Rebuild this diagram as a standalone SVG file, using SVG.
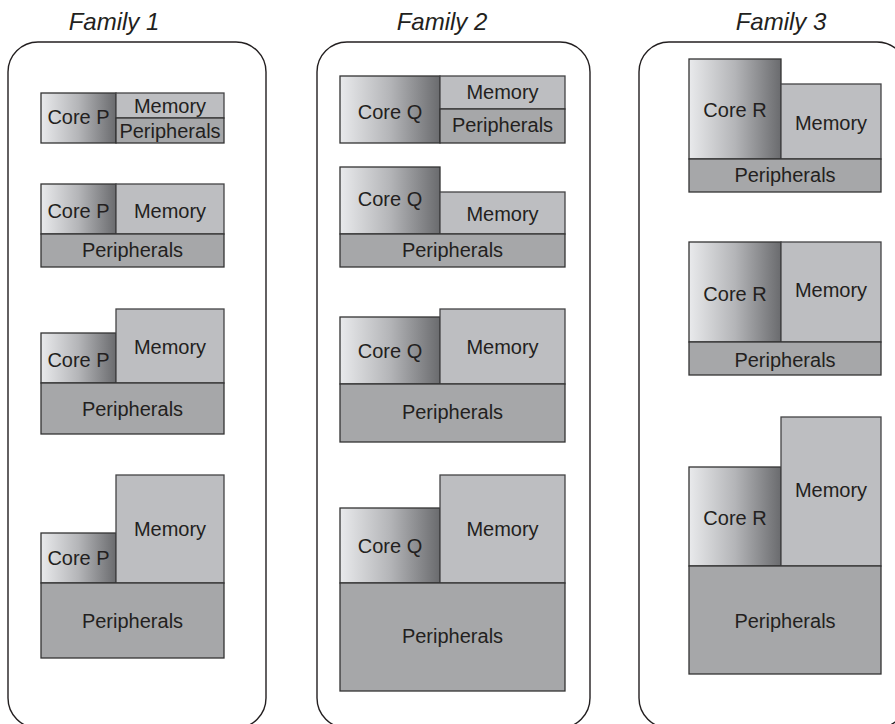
<svg xmlns="http://www.w3.org/2000/svg" width="895" height="724" viewBox="0 0 895 724">
<defs>
<linearGradient id="coreGrad" x1="0" y1="0" x2="1" y2="0">
<stop offset="0" stop-color="#e9eaec"/>
<stop offset="0.5" stop-color="#b4b5b8"/>
<stop offset="1" stop-color="#6a6b6e"/>
</linearGradient>
<style>
.panel{fill:#ffffff;stroke:#231f20;stroke-width:1.4}
.core{fill:url(#coreGrad);stroke:#333333;stroke-width:1.3}
.mem{fill:#bdbec1;stroke:#444446;stroke-width:1.3}
.per{fill:#a6a7a9;stroke:#333333;stroke-width:1.3}
.t{font-family:"Liberation Sans",Arial,sans-serif;font-size:20px;fill:#231f20;text-anchor:middle}
.title{font-family:"Liberation Sans",Arial,sans-serif;font-size:24px;font-style:italic;fill:#231f20;text-anchor:middle}
</style>
</defs>
<rect width="895" height="724" fill="#ffffff"/>

<g id="family1">
<text class="title" x="114" y="30">Family 1</text>
<rect class="panel" x="8" y="42" width="258" height="686" rx="30" ry="30"/>
</g>
<g id="family2">
<text class="title" x="442" y="30">Family 2</text>
<rect class="panel" x="317" y="42" width="273" height="686" rx="30" ry="30"/>
</g>
<g id="family3">
<text class="title" x="781" y="30">Family 3</text>
<rect class="panel" x="639" y="42" width="268" height="686" rx="30" ry="30"/>
</g>

<!-- Family 1 -->
<g id="f1b1">
<rect class="core" x="41" y="93" width="75" height="50"/>
<rect class="mem" x="116" y="93" width="108" height="25"/>
<rect class="per" x="116" y="118" width="108" height="25"/>
<text class="t" x="78.5" y="124">Core P</text>
<text class="t" x="170" y="113">Memory</text>
<text class="t" x="170" y="138">Peripherals</text>
</g>
<g id="f1b2">
<rect class="core" x="41" y="184" width="75" height="50"/>
<rect class="mem" x="116" y="184" width="108" height="50"/>
<rect class="per" x="41" y="234" width="183" height="33"/>
<text class="t" x="78.5" y="218">Core P</text>
<text class="t" x="170" y="218">Memory</text>
<text class="t" x="132.5" y="257">Peripherals</text>
</g>
<g id="f1b3">
<rect class="core" x="41" y="333" width="75" height="50"/>
<rect class="mem" x="116" y="309" width="108" height="74"/>
<rect class="per" x="41" y="383" width="183" height="51"/>
<text class="t" x="78.5" y="367">Core P</text>
<text class="t" x="170" y="354">Memory</text>
<text class="t" x="132.5" y="416">Peripherals</text>
</g>
<g id="f1b4">
<rect class="core" x="41" y="533" width="75" height="50"/>
<rect class="mem" x="116" y="475" width="108" height="108"/>
<rect class="per" x="41" y="583" width="183" height="75"/>
<text class="t" x="78.5" y="565">Core P</text>
<text class="t" x="170" y="536">Memory</text>
<text class="t" x="132.5" y="628">Peripherals</text>
</g>

<!-- Family 2 -->
<g id="f2b1">
<rect class="core" x="340" y="76" width="100" height="67"/>
<rect class="mem" x="440" y="76" width="125" height="33"/>
<rect class="per" x="440" y="109" width="125" height="34"/>
<text class="t" x="390" y="119">Core Q</text>
<text class="t" x="502.5" y="99">Memory</text>
<text class="t" x="502.5" y="132">Peripherals</text>
</g>
<g id="f2b2">
<rect class="core" x="340" y="167" width="100" height="67"/>
<rect class="mem" x="440" y="192" width="125" height="42"/>
<rect class="per" x="340" y="234" width="225" height="33"/>
<text class="t" x="390" y="206">Core Q</text>
<text class="t" x="502.5" y="221">Memory</text>
<text class="t" x="452.5" y="257">Peripherals</text>
</g>
<g id="f2b3">
<rect class="core" x="340" y="317" width="100" height="67"/>
<rect class="mem" x="440" y="309" width="125" height="75"/>
<rect class="per" x="340" y="384" width="225" height="58"/>
<text class="t" x="390" y="358">Core Q</text>
<text class="t" x="502.5" y="354">Memory</text>
<text class="t" x="452.5" y="419">Peripherals</text>
</g>
<g id="f2b4">
<rect class="core" x="340" y="508" width="100" height="75"/>
<rect class="mem" x="440" y="475" width="125" height="108"/>
<rect class="per" x="340" y="583" width="225" height="108"/>
<text class="t" x="390" y="553">Core Q</text>
<text class="t" x="502.5" y="536">Memory</text>
<text class="t" x="452.5" y="643">Peripherals</text>
</g>

<!-- Family 3 -->
<g id="f3b1">
<rect class="core" x="689" y="59" width="92" height="100"/>
<rect class="mem" x="781" y="84" width="100" height="75"/>
<rect class="per" x="689" y="159" width="192" height="33"/>
<text class="t" x="735" y="117">Core R</text>
<text class="t" x="831" y="130">Memory</text>
<text class="t" x="785" y="182">Peripherals</text>
</g>
<g id="f3b2">
<rect class="core" x="689" y="242" width="92" height="100"/>
<rect class="mem" x="781" y="242" width="100" height="100"/>
<rect class="per" x="689" y="342" width="192" height="33"/>
<text class="t" x="735" y="301">Core R</text>
<text class="t" x="831" y="297">Memory</text>
<text class="t" x="785" y="367">Peripherals</text>
</g>
<g id="f3b3">
<rect class="core" x="689" y="467" width="92" height="99"/>
<rect class="mem" x="781" y="417" width="100" height="149"/>
<rect class="per" x="689" y="566" width="192" height="108"/>
<text class="t" x="735" y="525">Core R</text>
<text class="t" x="831" y="497">Memory</text>
<text class="t" x="785" y="628">Peripherals</text>
</g>

<g id="connectors"></g>
</svg>
